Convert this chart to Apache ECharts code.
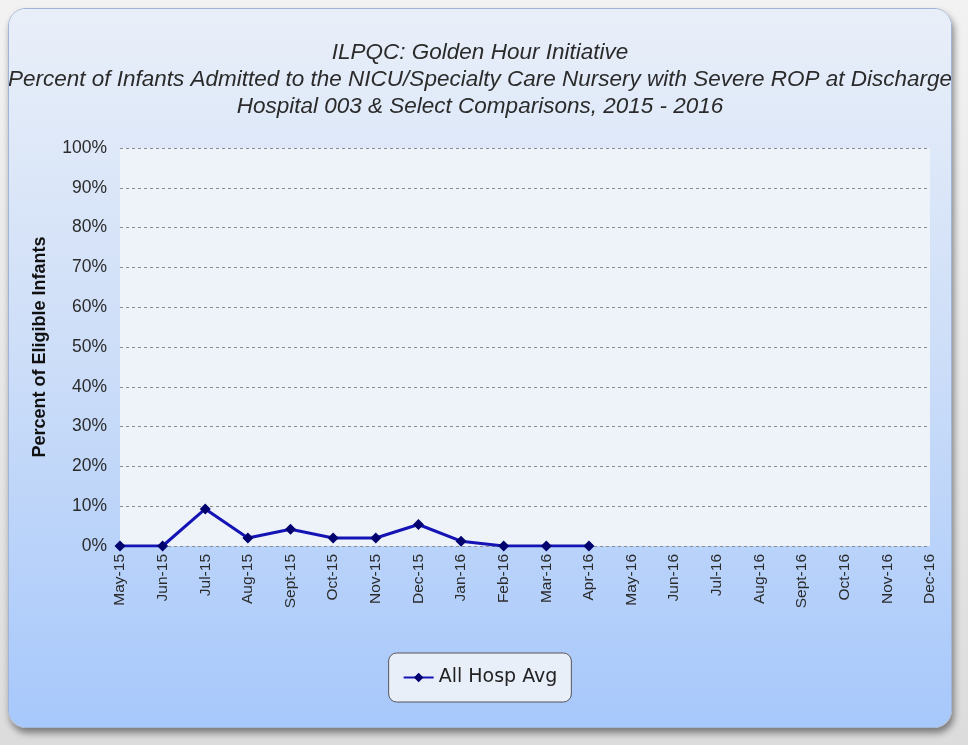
<!DOCTYPE html>
<html>
<head>
<meta charset="utf-8">
<script src="https://cdn.jsdelivr.net/npm/echarts@6/dist/echarts.min.js"></script>
<style>
  html, body { margin: 0; padding: 0; width: 968px; height: 745px; overflow: hidden;
    background: linear-gradient(#f2f2f2, #dcdcdc); }
  #chart { position: absolute; left: 8px; top: 8px; width: 944px; height: 720px;
    border-radius: 18px; overflow: hidden; border: 1px solid #9fb4d6; box-sizing: border-box;
    box-shadow: 2px 5px 7px rgba(0,0,0,0.45); }
</style>
</head>
<body>
<div id="chart"></div>
<script>
// months shown on the x axis
var months = ['May-15', 'Jun-15', 'Jul-15', 'Aug-15', 'Sept-15', 'Oct-15', 'Nov-15', 'Dec-15',
    'Jan-16', 'Feb-16', 'Mar-16', 'Apr-16', 'May-16', 'Jun-16', 'Jul-16', 'Aug-16',
    'Sept-16', 'Oct-16', 'Nov-16', 'Dec-16'];

// All Hosp Avg, percent (only first 12 months reported)
var allHospAvg = [0, 0, 9.3, 2.0, 4.2, 2.0, 2.0, 5.4, 1.2, 0, 0, 0];

var yTicks = [0, 10, 20, 30, 40, 50, 60, 70, 80, 90, 100];

var titleLines = [
    'ILPQC: Golden Hour Initiative',
    'Percent of Infants Admitted to the NICU/Specialty Care Nursery with Severe ROP at Discharge',
    'Hospital 003 & Select Comparisons, 2015 - 2016'
];

var chart = echarts.init(document.getElementById('chart'));

var option = {
    animation: false,
    backgroundColor: {
        type: 'linear', x: 0, y: 0, x2: 0, y2: 1,
        colorStops: [
            { offset: 0, color: '#e9eff9' },
            { offset: 0.45, color: '#cfdff8' },
            { offset: 1, color: '#a7c8fb' }
        ]
    },
    title: {
        text: titleLines.join('\n'),
        left: 'center',
        top: 25,
        textStyle: {
            fontFamily: 'Liberation Sans',
            fontStyle: 'italic',
            fontWeight: 'normal',
            fontSize: 22.5,
            lineHeight: 27,
            color: '#2b2b2b'
        }
    },
    grid: {
        left: 111,
        right: 21,
        top: 139,
        bottom: 181,
        show: true,
        backgroundColor: '#eef2f9',
        borderWidth: 0
    },
    legend: {
        data: ['All Hosp Avg'],
        left: 'center',
        top: 644,
        backgroundColor: '#e9eff9',
        borderColor: '#555',
        borderWidth: 1,
        borderRadius: 8,
        padding: [15, 14, 15, 14],
        itemWidth: 30,
        itemHeight: 12,
        textStyle: {
            fontFamily: 'DejaVu Sans',
            fontSize: 19,
            color: '#222'
        }
    },
    xAxis: {
        type: 'category',
        data: months,
        boundaryGap: false,
        axisLine: { show: false },
        axisTick: { show: false },
        axisLabel: {
            rotate: 90,
            interval: 0,
            margin: 8,
            fontFamily: 'Liberation Sans',
            fontSize: 15.5,
            color: '#2b2b2b'
        },
        splitLine: { show: false }
    },
    yAxis: {
        type: 'value',
        min: yTicks[0],
        max: yTicks[yTicks.length - 1],
        interval: 10,
        name: 'Percent of Eligible Infants',
        nameLocation: 'middle',
        nameGap: 71,
        nameTextStyle: {
            fontFamily: 'Liberation Sans',
            fontWeight: 'bold',
            fontSize: 18,
            color: '#111'
        },
        axisLine: { show: false },
        axisTick: { show: false },
        axisLabel: {
            formatter: '{value}%',
            margin: 13,
            fontFamily: 'Liberation Sans',
            fontSize: 17.5,
            color: '#2b2b2b'
        },
        splitLine: {
            show: true,
            lineStyle: { color: '#8a8a8a', type: [3, 3], width: 1 }
        }
    },
    series: [{
        name: 'All Hosp Avg',
        type: 'line',
        data: allHospAvg,
        symbol: 'diamond',
        symbolSize: 11,
        lineStyle: { color: '#1414b4', width: 3 },
        itemStyle: { color: '#00006e' }
    }]
};

chart.setOption(option);
</script>
</body>
</html>
